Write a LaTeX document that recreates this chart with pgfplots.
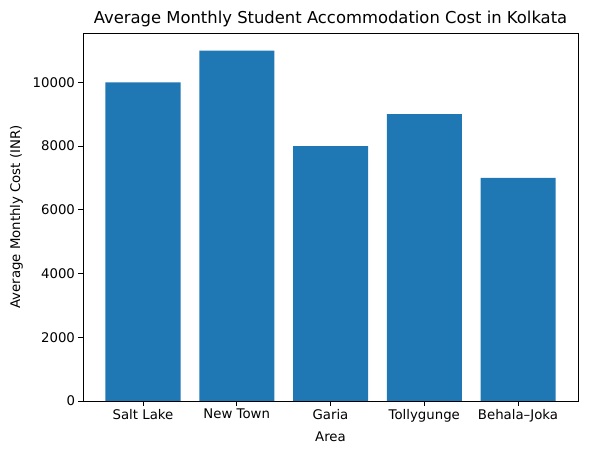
\documentclass[border=0pt]{standalone}
\usepackage{pgfplots}
\pgfplotsset{compat=1.18}
\usepackage{fontspec}
\setmainfont{DejaVu Sans}
\definecolor{barblue}{HTML}{1F77B4}
\begin{document}
\begin{tikzpicture}
\begin{axis}[
  scale only axis,
  width=495pt, height=368pt,
  xmin=-0.64, xmax=4.64,
  ymin=0, ymax=11550,
  xtick={0,1,2,3,4},
  xticklabels={Salt Lake, New Town, Garia, Tollygunge, Behala–Joka},
  ytick={0,2000,4000,6000,8000,10000},
  scaled y ticks=false,
  /pgf/number format/assume math mode=true,
  /pgf/number format/1000 sep={},
  tick align=outside,
  major tick length=4.5pt,
  tick style={black, line width=0.8pt},
  axis line style={line width=0.8pt},
  xtick pos=bottom, ytick pos=left,
  ticklabel style={font=\fontsize{13.3}{15}\selectfont},
  xlabel={Area},
  ylabel={Average Monthly Cost (INR)},
  label style={font=\fontsize{13.3}{15}\selectfont},
  xlabel style={yshift=-3pt},
  ylabel style={yshift=3pt},
  title={Average Monthly Student Accommodation Cost in Kolkata},
  title style={font=\fontsize{16.4}{19}\selectfont, yshift=-3pt},
  ybar, bar width=0.8, bar shift=0pt,
]
\addplot[fill=barblue, draw=none] coordinates {(0,10000) (1,11000) (2,8000) (3,9000) (4,7000)};
\coordinate (ll) at (rel axis cs:0,0);
\coordinate (ur) at (rel axis cs:1,1);
\end{axis}
\path ([shift={(-83pt,-54pt)}]ll) rectangle ([shift={(11pt,33pt)}]ur);
\end{tikzpicture}
\end{document}
